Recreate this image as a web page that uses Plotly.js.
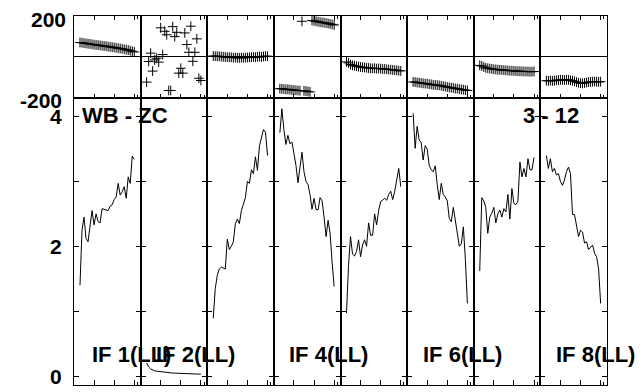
<!DOCTYPE html>
<html><head><meta charset="utf-8">
<script src="https://cdn.plot.ly/plotly-3.0.1.min.js"></script>
<style>html,body{margin:0;padding:0;background:#fff;}</style>
</head><body><div id="chart" style="width:643px;height:392px;"></div>
<script>
const channels = [1,2,3,4,5,6,7,8,9,10,11,12,13,14,15,16,17,18,19,20,21,22,23,24,25,26,27,28];
const ifLabels = ["IF 1(LL)", "IF 2(LL)", "", "IF 4(LL)", "", "IF 6(LL)", "", "IF 8(LL)"];
const baselineLabel = "WB - ZC";
const timeLabel = "3 - 12";
const phaseTicks = [200, -200];
const ampTicks = [4, 2, 0];

const phase1 = [70,69,67,66,64,63,61,60,58,57,56,54,53,52,50,49,47,46,44,42,41,39,37,35,33,30,27,24];
const phase2 = [-124,-23,18,-70,-15,-7,-26,142,11,125,108,-165,-165,148,99,120,-80,-56,-80,117,60,22,150,-22,22,88,-105,-116];
const phase3 = [4,3,3,2,1,0,-1,-2,-2,-3,-4,-4,-5,-5,-4,-5,-4,-3,-3,-2,-1,-2,0,1,0,2,3,3];
const phase4 = [-156,-157,-158,-160,-159,-161,-162,-163,-164,-165,-166,174,-167,-168,-170,-172,178,176,174,172,170,168,167,165,163,161,159,156];
const phase5 = [-25,-30,-38,-42,-44,-46,-48,-50,-51,-52,-54,-55,-56,-57,-56,-58,-57,-58,-60,-59,-61,-62,-63,-64,-65,-66,-68,-69];
const phase6 = [-123,-124,-126,-127,-128,-130,-131,-132,-134,-135,-137,-138,-139,-140,-142,-144,-146,-148,-150,-151,-153,-155,-156,-158,-160,-161,-163,-165];
const phase7 = [-42,-45,-50,-54,-56,-58,-59,-61,-62,-63,-64,-64,-65,-66,-67,-68,-68,-69,-70,-70,-71,-71,-72,-72,-72,-73,-73,-72];
const phase8 = [-117,-118,-116,-118,-117,-115,-114,-113,-113,-114,-112,-113,-115,-117,-120,-124,-127,-129,-130,-128,-126,-124,-123,-122,-121,-122,-123,-122];

const amp1 = [1.40,2.25,2.45,2.12,2.07,2.28,2.55,2.33,2.50,2.38,2.36,2.58,2.57,2.57,2.55,2.62,2.64,2.72,2.76,2.97,2.79,2.84,2.92,2.74,3.07,2.97,3.39,3.34];
const amp2 = [0.20,0.14,0.11,0.09,0.08,0.075,0.07,0.065,0.06,0.055,0.05,0.05,0.048,0.046,0.045,0.043,0.04,0.04,0.038,0.036,0.035,0.035,0.034,0.033,0.032,0.031,0.03,0.03];
const amp3 = [0.89,1.35,1.55,1.65,1.68,1.67,1.65,2.11,1.95,2.00,2.07,2.35,2.42,2.35,2.55,2.65,2.75,3.00,2.97,3.18,3.12,3.38,3.17,3.55,3.66,3.80,3.76,3.40];
const amp4 = [3.75,4.12,3.80,3.57,3.71,3.58,3.61,3.45,3.25,2.98,3.25,3.45,3.15,3.00,2.95,2.80,2.57,2.74,2.57,2.56,2.75,2.70,2.45,2.15,2.40,2.20,1.75,1.38];
const amp5 = [0.97,1.70,2.15,1.88,1.85,1.92,2.10,1.84,2.02,2.10,2.00,2.36,2.17,2.17,2.50,2.33,2.55,2.69,2.71,2.74,2.71,2.80,2.85,2.72,2.85,3.00,3.20,2.92];
const amp6 = [4.05,3.51,3.85,3.64,3.60,3.33,3.55,3.50,3.25,3.18,3.15,3.24,2.95,2.72,2.97,2.80,2.76,2.70,2.43,2.38,2.60,2.40,2.25,2.00,2.04,2.30,1.80,1.12];
const amp7 = [1.62,2.75,2.70,2.60,2.20,2.45,2.51,2.60,2.36,2.50,2.56,2.45,2.58,2.53,2.80,2.42,2.89,2.66,2.64,2.70,3.30,3.07,3.20,3.07,3.35,3.18,3.18,3.37];
const amp8 = [3.40,3.20,3.35,3.15,3.20,3.10,3.12,3.00,2.94,3.02,3.15,3.22,3.12,2.49,2.49,2.33,2.15,2.25,2.22,2.05,2.07,1.95,1.98,2.02,1.89,1.84,1.65,1.12];

const phases = [phase1, phase2, phase3, phase4, phase5, phase6, phase7, phase8];
const amps = [amp1, amp2, amp3, amp4, amp5, amp6, amp7, amp8];

// geometry (pixels)
const W = 643, H = 392;
const L = 74, R = 607.3, T = 15.5, B = 385.3, SPLIT = 97.3;
const px2x = p => (p - L) / (R - L);
const py2y = p => (B - p) / (B - T);
const splitY = py2y(SPLIT);

const FONT = 'Liberation Sans, Arial, sans-serif';
const nP = 8;
const xRange = [-1.98, 31.17];
const xTicks = [8, 18, 28];

const traces = [];
const layout = {
  width: W, height: H,
  margin: {l: L, r: W - R, t: T, b: H - B, pad: 0},
  paper_bgcolor: '#fff', plot_bgcolor: '#fff',
  showlegend: false,
  font: {family: FONT, color: '#000'},
  annotations: []
};
const nm = (p, k) => k === 1 ? p : p + k;

for (let i = 0; i < nP; i++) {
  const kt = i + 1, kb = i + 9;
  const dom = [i / nP, (i + 1) / nP];
  traces.push({
    x: channels, y: phases[i], type: 'scatter', mode: 'markers',
    xaxis: nm('x', kt), yaxis: nm('y', kt),
    marker: {symbol: 'cross-thin-open', size: 7, color: '#000', line: {color: '#000', width: 1}},
    hoverinfo: 'skip'
  });
  traces.push({
    x: channels, y: amps[i], type: 'scatter', mode: 'lines',
    xaxis: nm('x', kb), yaxis: nm('y', kb),
    line: {color: '#000', width: 1},
    hoverinfo: 'skip'
  });
  layout[nm('xaxis', kt)] = {
    domain: dom, anchor: nm('y', kt), range: xRange,
    showgrid: false, zeroline: false, showline: true, linecolor: '#000', linewidth: 1, mirror: 'ticks',
    ticks: 'inside', ticklen: 4, tickcolor: '#000', tickwidth: 1,
    tickmode: 'array', tickvals: xTicks, showticklabels: false,
    minor: {tickmode: 'array', tickvals: [29.6], ticks: 'inside', ticklen: 3, tickcolor: '#000', tickwidth: 1}
  };
  layout[nm('yaxis', kt)] = {
    domain: [splitY, 1], anchor: nm('x', kt), range: [-200, 200],
    showgrid: false, zeroline: true, zerolinecolor: '#000', zerolinewidth: 1,
    showline: true, linecolor: '#000', linewidth: 1, mirror: true,
    ticks: '', showticklabels: false
  };
  layout[nm('xaxis', kb)] = {
    domain: dom, anchor: nm('y', kb), range: xRange,
    showgrid: false, zeroline: false, showline: true, linecolor: '#000', linewidth: 1, mirror: true,
    ticks: 'inside', ticklen: 5, tickcolor: '#000', tickwidth: 1,
    tickmode: 'array', tickvals: xTicks, showticklabels: false,
    minor: {tickmode: 'array', tickvals: [29.6], ticks: 'inside', ticklen: 3, tickcolor: '#000', tickwidth: 1}
  };
  layout[nm('yaxis', kb)] = {
    domain: [0, splitY], anchor: nm('x', kb), range: [-0.138, 4.292],
    showgrid: false, zeroline: false,
    showline: true, linecolor: '#000', linewidth: 1, mirror: 'ticks',
    ticks: 'inside', ticklen: 5, tickcolor: '#000', tickwidth: 1,
    tickmode: 'array', tickvals: [0, 1, 2, 3, 4], showticklabels: false
  };
}

const labFont = {family: FONT, size: 22, color: '#000'};
const numFont = {family: FONT, size: 21, color: '#000'};
const ann = (text, x, y, xa, extra) => Object.assign({
  text: '<b>' + text + '</b>', x: x, y: y, xref: 'paper', yref: 'paper',
  xanchor: xa, yanchor: 'middle', showarrow: false, font: labFont, borderpad: 0
}, extra || {});

// axis labels
layout.annotations.push(ann(String(phaseTicks[0]), px2x(66.7), phaseTicks[0], 'right', {yref: 'y', yshift: -3, font: numFont}));
layout.annotations.push(ann(String(phaseTicks[1]), px2x(63.3), phaseTicks[1], 'right', {yref: 'y', yshift: -3, font: numFont}));
ampTicks.forEach(v => layout.annotations.push(ann(String(v), px2x(63.3), v, 'right', {yref: 'y9', font: numFont})));

// panel texts
layout.annotations.push(ann(baselineLabel, px2x(80.7), py2y(115.3), 'left'));
layout.annotations.push(ann(timeLabel, px2x(580), py2y(115.3), 'right'));
const ifLeft = [90.7, 155, 0, 288, 0, 421.7, 0, 555];
ifLabels.forEach((t, i) => {
  if (t) layout.annotations.push(ann(t, px2x(ifLeft[i]), py2y(354.5), 'left'));
});

Plotly.newPlot('chart', traces, layout, {displayModeBar: false, staticPlot: true});
</script>
</body></html>
